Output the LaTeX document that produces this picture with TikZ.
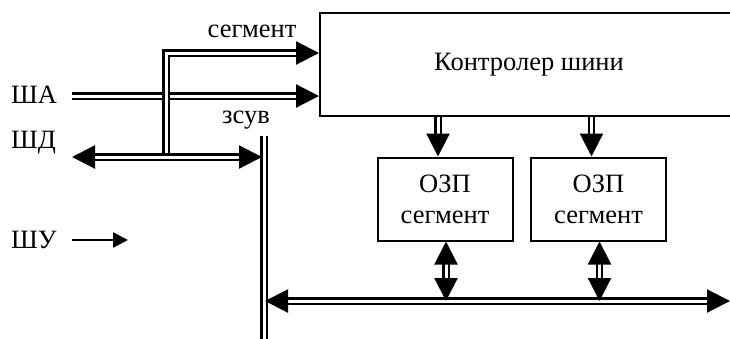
\documentclass[tikz,border=0pt]{standalone}
\usepackage{fontspec}
\setmainfont{Liberation Serif}
\usetikzlibrary{arrows.meta}

\begin{document}
\begin{tikzpicture}[x=1pt,y=-1pt,
 every node/.style={font=\fontsize{26.5}{31}\selectfont},
 block/.style={draw,line width=2pt,align=center,inner sep=0pt},
 ram/.style={block,minimum width=135pt,minimum height=83pt},
 bus/.style={draw,line width=2.2pt,double,double distance=3pt},
 one/.style={bus,-{Triangle[length=23pt,width=23pt]}},
 two/.style={bus,{Triangle[length=23pt,width=23pt]}-{Triangle[length=23pt,width=23pt]}},
 ctl/.style={line width=2.5pt,-{Triangle[length=15pt,width=15pt]}}]
 \useasboundingbox (0,0) rectangle (730,338);
 \node[block,minimum width=418pt,minimum height=103pt] (ctrl) at (529,64.5) {Контролер шини};
 \node[ram] (ram1) at (445,199) {ОЗП\\сегмент};
 \node[ram] (ram2) at (598.5,199) {ОЗП\\сегмент};
 \node[anchor=west,inner sep=0pt] (sa) at (11,95) {ША};
 \node[anchor=west,inner sep=0pt] (sd) at (11,143) {ШД};
 \node[anchor=west,inner sep=0pt] (su) at (11,240) {ШУ};
 \node (seg) at (252,31) {сегмент};
 \node (shift) at (246,120) {зсув};
 % lines
 \coordinate (saL) at (72,96);
 \coordinate (sdL) at (72,157);
 \coordinate (sdR) at (262,157);
 \coordinate (segB) at (166,156);
 \coordinate (segT) at (166,53);
 \coordinate (shT) at (264,136);
 \coordinate (shB) at (264,345);
 \coordinate (busL) at (265,301);
 \coordinate (busR) at (730,301);
 \coordinate (suL) at (72,240);
 \coordinate (suR) at (128,240);
 \draw[one] (saL) -- (ctrl.west |- saL);
 \draw[one] (segB) -- (segT) -- (ctrl.west |- segT);
 \draw[two] (sdL) -- (sdR);
 \draw[bus] (shT) -- (shB);
 \draw[two] (busL) -- (busR);
 \draw[ctl] (suL) -- (suR);
 \draw[one] ([xshift=-7pt]ram1.north |- ctrl.south) -- ([xshift=-7pt]ram1.north);
 \draw[one] ([xshift=-7pt]ram2.north |- ctrl.south) -- ([xshift=-7pt]ram2.north);
 \draw[two] ([xshift=1pt]ram1.south) -- ([xshift=1pt]ram1.south |- busL);
 \draw[two] ([xshift=1pt]ram2.south) -- ([xshift=1pt]ram2.south |- busL);
\end{tikzpicture}
\end{document}
